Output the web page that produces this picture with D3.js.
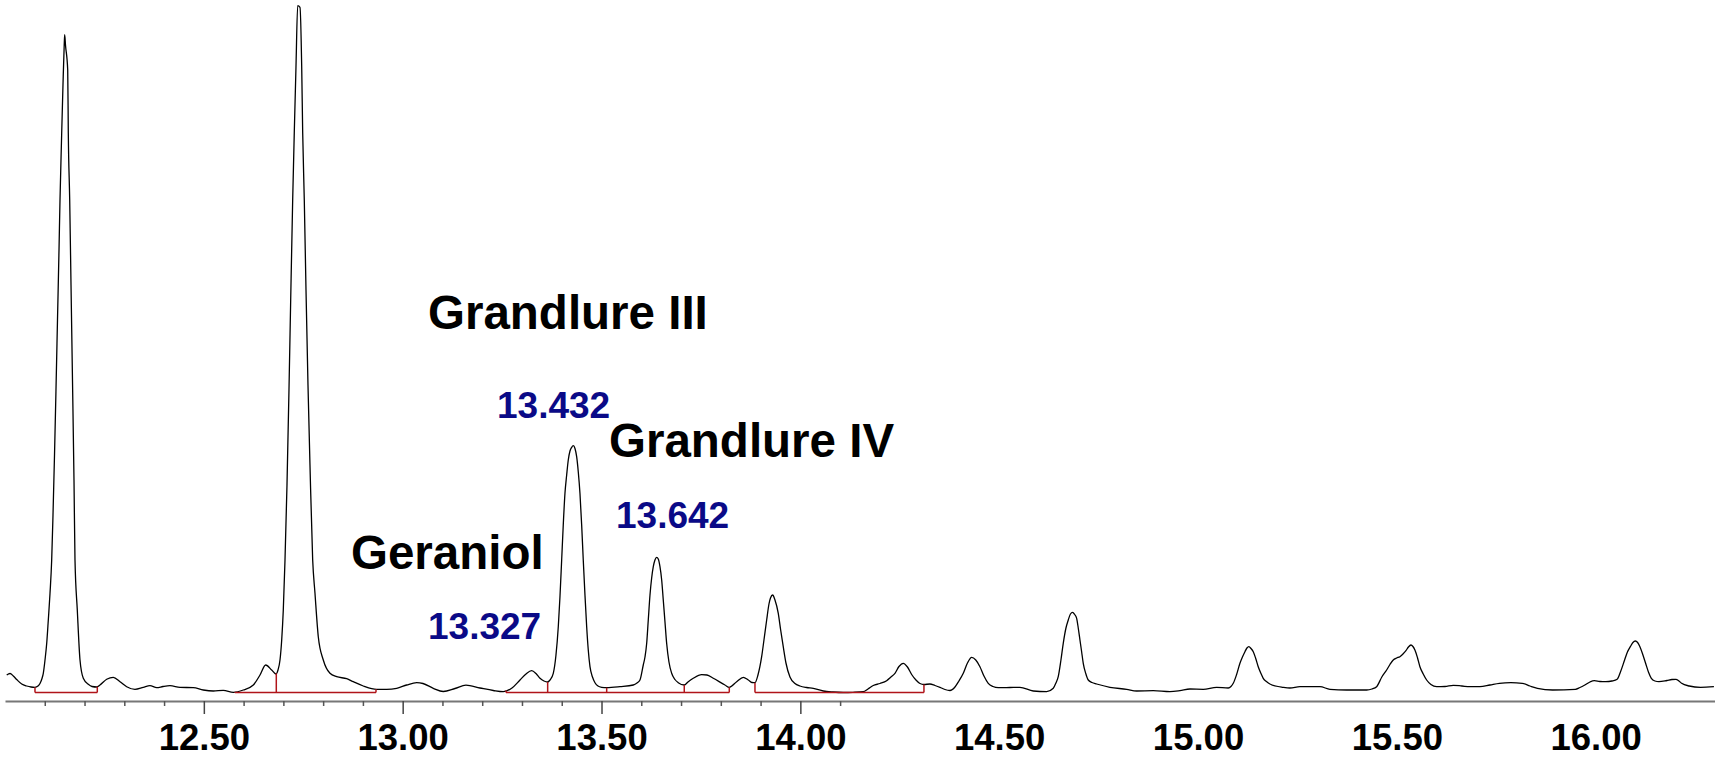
<!DOCTYPE html>
<html>
<head>
<meta charset="utf-8">
<script src="https://cdn.jsdelivr.net/npm/d3@7"></script>
<style>
body { margin: 0; background: #fff; }
</style>
</head>
<body>
<div class="chart"></div>
<script>
// chromatogram trace: [retention time (min), detector response]
var trace = [
  [12.0043, 25], [12.0126, 26.5], [12.0209, 24], [12.0294, 20.5], [12.0420, 16], [12.0546, 14], [12.0654, 13], [12.0754, 12.7],
  [12.0830, 14], [12.0880, 16.5], [12.0930, 21.5], [12.0963, 26.7], [12.1006, 40], [12.1049, 56.7], [12.1089, 80], [12.1132, 106.7],
  [12.1174, 140], [12.1207, 185], [12.1245, 245], [12.1282, 310], [12.1320, 380], [12.1358, 450], [12.1383, 500], [12.1421, 560],
  [12.1458, 615], [12.1489, 655], [12.1501, 665.3], [12.1521, 655], [12.1577, 630], [12.1592, 567], [12.1627, 500], [12.1660, 415],
  [12.1697, 320], [12.1735, 220], [12.1760, 140], [12.1818, 90], [12.1886, 40], [12.1969, 21.7], [12.2095, 15.7], [12.2188, 13.5],
  [12.2306, 13], [12.2389, 15], [12.2557, 20.7], [12.2723, 22.7], [12.2892, 18.3], [12.3060, 13.3], [12.3269, 10.7], [12.3478, 12.7],
  [12.3646, 14.3], [12.3815, 12.3], [12.3973, 13.5], [12.4149, 14.3], [12.4400, 12.7], [12.4735, 12.3], [12.4986, 10], [12.5238, 9],
  [12.5489, 9.7], [12.5741, 7.7], [12.5992, 10], [12.6244, 15], [12.6412, 25], [12.6555, 35], [12.6706, 30], [12.6814, 26],
  [12.6865, 30], [12.6915, 40], [12.6958, 60], [12.6998, 90], [12.7041, 140], [12.7091, 215], [12.7141, 310], [12.7184, 400],
  [12.7234, 500], [12.7274, 567], [12.7317, 633], [12.7360, 694.3], [12.7418, 692.7], [12.7461, 633], [12.7486, 567], [12.7526, 500],
  [12.7569, 410], [12.7619, 315], [12.7669, 235], [12.7737, 140], [12.7795, 106.7], [12.7878, 63.3], [12.8004, 40], [12.8172, 26.7],
  [12.8341, 23.3], [12.8592, 21.3], [12.8758, 18.3], [12.9010, 14], [12.9221, 11.3], [12.9346, 10.7], [12.9598, 10.7], [12.9849, 11.7],
  [13.0101, 15], [13.0352, 17.3], [13.0511, 16.5], [13.0770, 11.7], [13.1021, 8.5], [13.1315, 11.5], [13.1592, 14.8], [13.1944, 12],
  [13.2278, 9.5], [13.2530, 8.3], [13.2749, 12], [13.2950, 20], [13.3101, 26], [13.3244, 29.3], [13.3352, 26.5], [13.3453, 21.7],
  [13.3553, 19], [13.3646, 18], [13.3704, 20], [13.3787, 26.7], [13.3855, 45], [13.3913, 73.3], [13.3955, 103], [13.3998, 140],
  [13.4038, 175], [13.4081, 206.7], [13.4124, 225], [13.4164, 240], [13.4207, 249], [13.4250, 252.7], [13.4290, 254.3], [13.4333, 251.5],
  [13.4375, 243.3], [13.4416, 228], [13.4458, 206.7], [13.4501, 175], [13.4541, 140], [13.4584, 105], [13.4627, 73.3], [13.4667, 50],
  [13.4710, 33.3], [13.4773, 23], [13.4836, 17.3], [13.4911, 14], [13.5004, 12.7], [13.5130, 12.3], [13.5464, 13.3], [13.5799, 15],
  [13.5892, 17], [13.5967, 20], [13.6050, 35], [13.6093, 43], [13.6136, 56.7], [13.6176, 80], [13.6219, 105], [13.6261, 122],
  [13.6302, 133.3], [13.6344, 140], [13.6387, 142.7], [13.6427, 141], [13.6470, 133.3], [13.6513, 120], [13.6553, 100], [13.6596, 78],
  [13.6638, 56.7], [13.6696, 38], [13.6764, 26.7], [13.6847, 20.5], [13.6930, 17.3], [13.7081, 15], [13.7174, 18], [13.7307, 21.7],
  [13.7519, 25.3], [13.7652, 25], [13.7810, 21.7], [13.8104, 15], [13.8213, 12.7], [13.8399, 18.3], [13.8565, 22.7], [13.8690, 20],
  [13.8783, 17.5], [13.8859, 17.3], [13.8934, 25], [13.9027, 43.3], [13.9085, 60], [13.9153, 80], [13.9211, 96], [13.9249, 102],
  [13.9304, 105], [13.9362, 100], [13.9445, 86.7], [13.9505, 70], [13.9570, 53.3], [13.9638, 37], [13.9739, 23], [13.9865, 16.5],
  [13.9990, 14], [14.0159, 12.5], [14.0325, 11.7], [14.0576, 9], [14.0820, 8], [14.1079, 7.5], [14.1323, 7.7], [14.1582, 8.3],
  [14.1700, 11], [14.1833, 14.5], [14.2002, 16.5], [14.2170, 19.3], [14.2278, 23], [14.2379, 26.7], [14.2480, 33.5], [14.2588, 36.7],
  [14.2693, 33], [14.2799, 25.5], [14.2907, 20], [14.3008, 16.5], [14.3108, 15.5], [14.3259, 16], [14.3385, 14.5], [14.3511, 12.7],
  [14.3636, 10.5], [14.3762, 9.5], [14.3888, 13], [14.3988, 19], [14.4097, 26.7], [14.4202, 37], [14.4308, 42.7], [14.4411, 40],
  [14.4516, 33.3], [14.4617, 24], [14.4725, 16.7], [14.4843, 13.5], [14.4977, 12.3], [14.5271, 12.5], [14.5522, 12.7], [14.5857, 9],
  [14.6194, 8.3], [14.6360, 11.7], [14.6427, 17], [14.6485, 23.3], [14.6553, 40], [14.6611, 56.7], [14.6679, 72], [14.6737, 80],
  [14.6792, 86], [14.6847, 87.7], [14.6898, 85.5], [14.6948, 81.7], [14.6988, 72], [14.7031, 60], [14.7074, 48], [14.7114, 36.7],
  [14.7177, 26.5], [14.7240, 20], [14.7333, 17.5], [14.7451, 16], [14.7785, 12.7], [14.8205, 10.7], [14.8457, 9], [14.8874, 9.3],
  [14.9294, 8.3], [14.9545, 9.3], [14.9797, 11], [15.0131, 10.7], [15.0468, 12.7], [15.0760, 12], [15.0828, 13.5], [15.0886, 16.7],
  [15.0966, 25], [15.1054, 36.7], [15.1117, 43], [15.1180, 48.3], [15.1230, 52], [15.1280, 53.3], [15.1331, 51.5], [15.1389, 48.3],
  [15.1451, 41.5], [15.1514, 33.3], [15.1577, 27], [15.1640, 21.7], [15.1720, 18.5], [15.1808, 16], [15.2143, 12.7], [15.2311, 12],
  [15.2563, 13.3], [15.3066, 13.3], [15.3317, 10.7], [15.3737, 10], [15.4240, 10], [15.4373, 11], [15.4491, 13.3], [15.4622, 23],
  [15.4743, 30], [15.4826, 35.5], [15.4909, 40], [15.4994, 42], [15.5077, 43.3], [15.5153, 46], [15.5228, 49.3], [15.5291, 53],
  [15.5354, 55], [15.5404, 53.5], [15.5454, 50], [15.5517, 42.5], [15.5580, 33.3], [15.5663, 26], [15.5749, 20], [15.5857, 15.5],
  [15.6000, 13.3], [15.6209, 13.5], [15.6418, 14.7], [15.6636, 14], [15.6837, 13.3], [15.7089, 13.3], [15.7340, 15], [15.7579, 16.7],
  [15.7866, 17.3], [15.8153, 16.7], [15.8346, 14], [15.8535, 11.7], [15.8917, 10], [15.9488, 10.7], [15.9603, 12.5], [15.9727, 15],
  [15.9855, 18], [15.9966, 19.3], [16.0106, 18.5], [16.0252, 18.3], [16.0408, 19], [16.0539, 20.7], [16.0622, 28], [16.0727, 40],
  [16.0798, 48], [16.0871, 53.3], [16.0936, 57.5], [16.0996, 59], [16.1054, 57.5], [16.1112, 53.3], [16.1188, 45], [16.1255, 36.7],
  [16.1326, 28], [16.1399, 21.7], [16.1489, 19], [16.1590, 18.3], [16.1791, 19.5], [16.1917, 20.5], [16.2017, 20.7], [16.2093, 19],
  [16.2161, 16.7], [16.2352, 14], [16.2636, 12.7], [16.2973, 13.3]
];

// integration baselines
var baseStarts = [12.0754, 12.5783, 13.2598, 13.8859];
var baseEnds = [12.2321, 12.9329, 13.8213, 14.3108];
var dropTimes = [12.6822, 13.3646, 13.5130, 13.7081];
var baseLevel = 7.5;

// axis ticks
var minorTicks = [12.1, 12.2, 12.3, 12.4, 12.6, 12.7, 12.8, 12.9, 13.1, 13.2, 13.3, 13.4, 13.6, 13.7, 13.8, 13.9, 14.1];
var majorTicks = [12.5, 13.0, 13.5, 14.0];
var tickLabels = [12.5, 13.0, 13.5, 14.0, 14.5, 15.0, 15.5, 16.0];

// peak annotations
var compounds = ["Grandlure III", "Grandlure IV", "Geraniol"];
var retTimes = ["13.432", "13.642", "13.327"];

var width = 1715, height = 760, axisY = 701;
var font = "'Liberation Sans', Arial, sans-serif";

var svg = d3.select("div.chart").append("svg")
    .attr("width", width)
    .attr("height", height);

var x = d3.scaleLinear().domain([12.0, 16.3]).range([5, 1715]);
var y = d3.scaleLinear().domain([0, 700]).range([700, 0]);

// axis: minor ticks, major ticks, labels
var gMinor = svg.append("g").attr("transform", "translate(0," + axisY + ")")
    .call(d3.axisBottom(x).tickValues(minorTicks).tickSize(5).tickSizeOuter(0).tickFormat(""));
gMinor.select(".domain").attr("stroke", "#777").attr("stroke-width", 2);
gMinor.selectAll(".tick line").attr("stroke", "#555").attr("stroke-width", 1.5);

var gMajor = svg.append("g").attr("transform", "translate(0," + axisY + ")")
    .call(d3.axisBottom(x).tickValues(majorTicks).tickSize(13).tickSizeOuter(0).tickFormat(""));
gMajor.select(".domain").remove();
gMajor.selectAll(".tick line").attr("stroke", "#444").attr("stroke-width", 1.5);

var gLab = svg.append("g").attr("transform", "translate(0," + axisY + ")")
    .call(d3.axisBottom(x).tickValues(tickLabels).tickSize(0).tickFormat(d3.format(".2f")));
gLab.select(".domain").remove();
gLab.selectAll(".tick text")
    .attr("y", 49)
    .attr("dy", null)
    .attr("fill", "#000")
    .attr("font-family", font)
    .attr("font-weight", "bold")
    .attr("font-size", "36.5px");

// trace
var line = d3.line()
    .x(function(d){ return x(d[0]); })
    .y(function(d){ return y(d[1]); })
    .curve(d3.curveMonotoneX);

svg.append("path")
    .datum(trace)
    .attr("d", line)
    .attr("fill", "none")
    .attr("stroke", "#000")
    .attr("stroke-width", 1.3)
    .attr("stroke-linejoin", "round");

// value of the trace at a given time
var bisect = d3.bisector(function(d){ return d[0]; }).left;
function valueAt(t){
    var i = bisect(trace, t);
    if(i <= 0) return trace[0][1];
    if(i >= trace.length) return trace[trace.length - 1][1];
    var a = trace[i - 1], b = trace[i];
    return a[1] + (b[1] - a[1]) * (t - a[0]) / (b[0] - a[0]);
}

var red = "#b0141a";
var gBase = svg.append("g").attr("stroke", red).attr("stroke-width", 1.5).attr("fill", "none");
baseStarts.forEach(function(t0, i){
    gBase.append("line")
        .attr("x1", x(t0)).attr("x2", x(baseEnds[i]))
        .attr("y1", y(baseLevel)).attr("y2", y(baseLevel));
});
var marks = baseStarts.concat(baseEnds).concat(dropTimes);
gBase.selectAll("line.drop")
    .data(marks)
    .enter().append("line")
    .attr("class", "drop")
    .attr("x1", function(d){ return x(d); })
    .attr("x2", function(d){ return x(d); })
    .attr("y1", y(baseLevel))
    .attr("y2", function(d){ return y(valueAt(d)); });

// annotations
var namePos = [[428, 329], [609, 457], [351, 569]];
var rtPos = [[497, 418], [616, 528], [428, 639]];

compounds.forEach(function(s, i){
    svg.append("text")
        .text(s)
        .attr("x", namePos[i][0])
        .attr("y", namePos[i][1])
        .attr("font-family", font)
        .attr("font-weight", "bold")
        .attr("font-size", "47.5px")
        .attr("fill", "#000");
});
retTimes.forEach(function(s, i){
    svg.append("text")
        .text(s)
        .attr("x", rtPos[i][0])
        .attr("y", rtPos[i][1])
        .attr("font-family", font)
        .attr("font-weight", "bold")
        .attr("font-size", "37px")
        .attr("fill", "#0a0a87");
});
</script>
</body>
</html>
